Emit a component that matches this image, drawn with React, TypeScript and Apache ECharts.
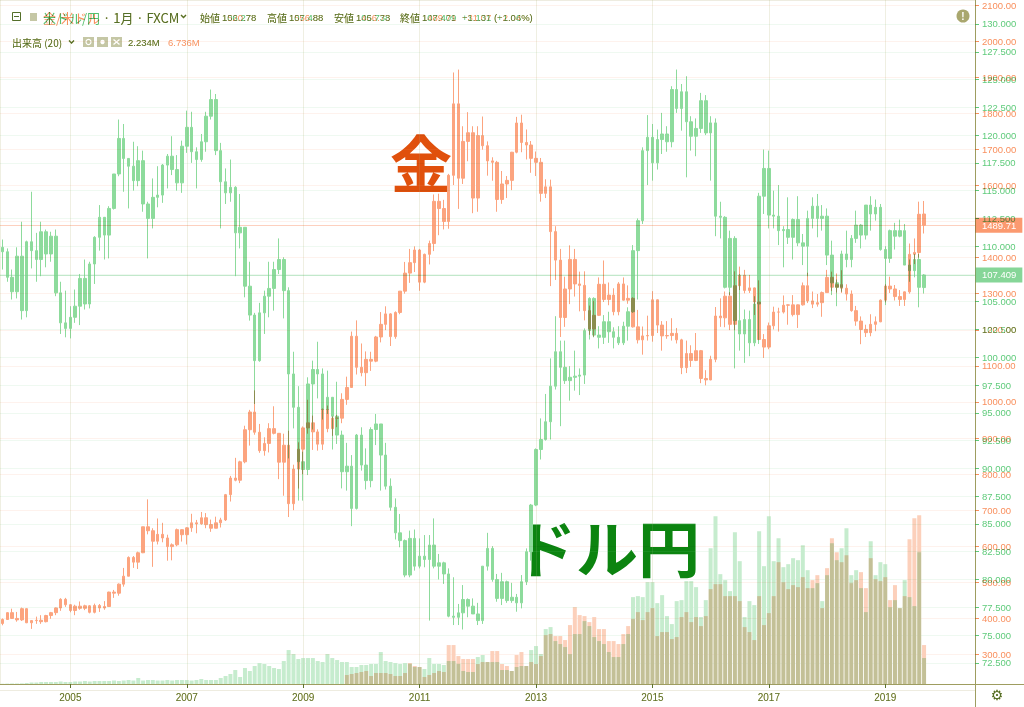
import React, { useEffect, useRef } from "react";
import * as echarts from "echarts";

// ---------- categories (monthly, 2003-11 .. 2020-07; data ends 2019-09) ----------
const MONTHS: string[] = [];
for (let k = 0; k < 201; k++) {
  const m = 10 + k;
  MONTHS.push(`${2003 + Math.floor(m / 12)}-${String((m % 12) + 1).padStart(2, "0")}`);
}
const YEAR_TICKS = ["2005", "2007", "2009", "2011", "2013", "2015", "2017", "2019"];

// ---------- USD/JPY monthly [open, close, low, high] ----------
const USDJPY: number[][] = [
  [109.9,109.5,107.9,110.6],[109.5,107.2,106.8,109.8],
  [107.2,105.9,105.2,107.9],[105.9,109.1,105.3,109.9],[109.1,104.2,103.4,112.2],[104.2,110.4,103.6,110.5],[110.4,109.6,108.0,114.9],[109.6,108.8,106.8,111.2],[108.8,111.3,107.3,112.2],[111.3,109.3,108.1,111.5],[109.3,110.9,108.6,111.3],[110.9,105.8,105.5,111.5],[105.8,103.1,102.1,106.8],[103.1,102.6,101.8,106.0],
  [102.6,103.6,101.7,104.6],[103.6,104.6,103.1,106.1],[104.6,107.1,102.9,107.5],[107.1,104.8,104.3,108.8],[104.8,108.4,104.4,108.6],[108.4,110.8,106.6,110.9],[110.8,112.6,109.6,113.7],[112.6,111.0,108.8,112.6],[111.0,113.4,108.9,113.6],[113.4,116.5,113.3,116.5],[116.5,119.7,116.3,121.4],[119.7,117.9,114.9,121.0],
  [117.9,117.2,113.4,117.9],[117.2,115.9,115.0,119.4],[115.9,117.7,115.4,119.0],[117.7,113.8,113.1,118.6],[113.8,112.5,108.9,114.0],[112.5,114.4,111.6,116.1],[114.4,114.6,113.5,117.2],[114.6,117.3,113.9,117.4],[117.3,118.1,115.2,118.3],[118.1,116.9,116.4,119.9],[116.9,115.7,115.0,118.2],[115.7,119.0,114.8,119.5],
  [119.0,120.7,118.4,122.2],[120.7,118.5,117.5,122.1],[118.5,117.8,115.2,118.9],[117.8,119.4,117.6,120.1],[119.4,121.7,118.5,122.1],[121.7,123.2,121.4,124.1],[123.2,118.6,118.2,123.7],[118.6,115.8,111.6,119.3],[115.8,114.8,113.8,117.0],[114.8,115.3,114.0,117.8],[115.3,111.2,107.3,115.4],[111.2,111.7,109.8,114.7],
  [111.7,106.4,105.4,111.7],[106.4,103.8,103.3,108.6],[103.8,99.7,95.8,104.0],[99.7,104.0,99.6,104.9],[104.0,105.5,102.1,106.0],[105.5,106.2,103.6,108.6],[106.2,107.9,104.2,108.6],[107.9,108.8,107.5,110.7],[108.8,106.0,103.5,109.0],[106.0,98.5,90.9,106.3],[98.5,95.5,93.6,100.5],[95.5,90.6,87.1,97.4],
  [90.6,89.9,87.1,91.5],[89.9,97.6,89.4,98.2],[97.6,98.9,93.5,99.7],[98.9,98.5,96.3,101.4],[98.5,95.3,94.4,99.0],[95.3,96.4,94.9,98.8],[96.4,94.7,91.7,96.4],[94.7,93.0,92.2,97.8],[93.0,89.7,88.2,93.4],[89.7,90.2,88.0,92.3],[90.2,86.4,84.8,91.2],[86.4,93.0,86.3,93.1],
  [93.0,90.3,89.8,93.7],[90.3,88.9,88.1,91.8],[88.9,93.5,88.3,93.7],[93.5,94.0,92.1,94.9],[94.0,91.2,88.0,94.0],[91.2,88.4,88.1,92.3],[88.4,86.5,86.2,89.1],[86.5,84.2,83.6,87.3],[84.2,83.5,82.9,85.9],[83.5,80.4,80.2,83.6],[80.4,83.7,80.2,84.4],[83.7,81.2,80.8,84.5],
  [81.2,82.1,81.0,83.7],[82.1,81.8,81.1,84.0],[81.8,83.1,76.3,84.0],[83.1,81.2,81.0,85.5],[81.2,81.5,80.0,82.3],[81.5,80.5,79.6,81.6],[80.5,76.7,76.6,81.0],[76.7,76.6,75.9,80.2],[76.6,77.0,75.9,77.8],[77.0,78.2,75.5,79.5],[78.2,77.6,76.6,78.3],[77.6,76.9,76.9,78.3],
  [76.9,76.3,75.9,77.9],[76.3,81.2,76.0,81.2],[81.2,82.8,80.8,84.2],[82.8,80.0,79.8,83.0],[80.0,78.3,78.0,80.5],[78.3,79.8,77.7,80.6],[79.8,78.1,77.9,79.9],[78.1,78.4,77.9,79.7],[78.4,77.9,77.1,78.7],[77.9,79.8,77.4,80.4],[79.8,82.5,79.5,82.8],[82.5,86.7,81.7,86.8],
  [86.7,91.7,86.6,91.8],[91.7,92.6,90.8,94.5],[92.6,94.2,92.5,96.7],[94.2,97.4,92.6,99.9],[97.4,100.5,97.1,103.7],[100.5,99.1,93.8,101.5],[99.1,97.9,97.6,101.5],[97.9,98.2,96.1,99.2],[98.2,98.3,97.0,100.6],[98.3,98.4,96.6,99.0],[98.4,102.4,97.6,102.6],[102.4,105.3,101.6,105.4],
  [105.3,102.0,101.8,105.4],[102.0,101.8,100.8,102.8],[101.8,103.2,101.2,103.8],[103.2,102.3,101.3,104.1],[102.3,101.8,100.8,102.7],[101.8,101.3,101.1,102.8],[101.3,102.8,101.1,103.2],[102.8,104.1,101.5,104.5],[104.1,109.6,104.0,110.1],[109.6,112.3,105.2,112.5],[112.3,118.6,112.0,118.9],[118.6,119.8,115.5,121.8],
  [119.8,117.5,115.9,121.0],[117.5,119.6,116.9,120.5],[119.6,120.1,118.3,122.0],[120.1,119.4,118.5,120.8],[119.4,124.1,118.9,124.4],[124.1,122.4,122.0,125.9],[122.4,123.9,120.4,124.6],[123.9,121.2,116.2,125.3],[121.2,119.9,118.6,121.7],[119.9,120.6,118.1,121.5],[120.6,123.1,120.2,123.8],[123.1,120.2,120.0,123.6],
  [120.2,121.1,115.9,121.7],[121.1,112.7,110.9,121.5],[112.7,112.6,110.7,114.0],[112.6,106.3,106.2,112.7],[106.3,110.7,105.6,111.4],[110.7,103.3,99.0,110.9],[103.3,102.1,100.6,107.5],[102.1,103.4,99.5,104.3],[103.4,101.3,100.1,104.2],[101.3,104.8,101.0,105.5],[104.8,114.5,101.2,114.8],[114.5,117.0,112.9,118.7],
  [117.0,112.8,111.6,118.6],[112.8,112.7,111.6,115.0],[112.7,111.4,110.1,115.5],[111.4,111.5,108.1,111.8],[111.5,110.8,110.2,114.4],[110.8,112.4,108.8,112.5],[112.4,110.3,110.0,114.5],[110.3,110.0,108.3,111.1],[110.0,112.5,107.3,113.2],[112.5,113.6,111.6,114.4],[113.6,112.5,110.8,114.7],[112.5,112.7,111.4,113.7],
  [112.7,109.2,108.3,113.4],[109.2,106.7,105.6,110.5],[106.7,106.3,104.6,107.0],[106.3,109.3,105.9,109.6],[109.3,108.8,108.1,111.4],[108.8,110.7,108.1,111.0],[110.7,111.9,110.3,113.2],[111.9,111.0,109.8,112.0],[111.0,113.7,110.6,113.7],[113.7,112.9,111.4,114.5],[112.9,113.5,112.3,114.2],[113.5,109.7,109.6,113.8],
  [109.7,108.9,104.7,110.0],[108.9,111.4,108.5,111.5],[111.4,110.9,109.7,112.1],[110.9,111.4,110.8,112.4],[111.4,108.3,108.3,112.0],[108.3,107.8,106.8,108.8],[107.8,108.8,107.2,109.3],[108.8,106.3,104.5,109.3],[106.278,107.409,105.738,107.488],
];

// ---------- Gold (XAU/USD) monthly [open, close, low, high] ----------
const GOLD: number[][] = [
  [386,397,381,400],[397,416,396,417],
  [416,400,399,427],[400,396,391,418],[396,427,393,430],[427,388,387,428],[388,394,371,395],[394,395,385,405],[395,391,385,409],[391,408,389,410],[408,416,399,418],[416,429,409,430],[429,453,421,456],[453,438,432,457],
  [438,422,417,439],[422,434,409,438],[434,428,424,447],[428,435,423,438],[435,417,414,437],[417,436,414,441],[436,429,418,440],[429,433,424,448],[433,473,432,474],[473,470,457,479],[470,495,463,497],[495,517,488,540],
  [517,569,517,572],[569,556,540,573],[556,582,537,585],[582,654,581,654],[654,643,633,730],[643,614,543,650],[614,633,605,677],[633,623,611,665],[623,599,560,632],[599,604,561,608],[604,646,600,649],[646,632,613,647],
  [632,651,605,653],[651,665,640,690],[665,662,636,673],[662,679,660,695],[679,660,650,692],[660,650,640,674],[650,665,650,682],[665,673,652,679],[673,743,670,745],[743,789,724,795],[789,783,780,845],[783,834,775,837],
  [834,923,830,934],[923,972,879,978],[972,916,909,1032],[916,865,859,939],[865,885,851,902],[885,926,860,941],[926,913,910,988],[913,833,786,913],[833,880,740,912],[880,718,681,920],[718,814,700,826],[814,869,760,888],
  [869,928,800,932],[928,942,912,1006],[942,917,867,962],[917,883,865,924],[883,979,867,982],[979,926,916,990],[926,955,906,960],[955,955,930,964],[955,1007,941,1024],[1007,1040,992,1070],[1040,1182,1040,1195],[1182,1096,1076,1226],
  [1096,1081,1071,1162],[1081,1118,1044,1140],[1118,1113,1086,1139],[1113,1180,1110,1183],[1180,1215,1165,1249],[1215,1244,1199,1265],[1244,1181,1155,1246],[1181,1248,1175,1251],[1248,1307,1243,1307],[1307,1357,1300,1388],[1357,1386,1330,1424],[1386,1421,1360,1431],
  [1421,1332,1308,1424],[1332,1409,1329,1411],[1409,1439,1381,1447],[1439,1556,1418,1575],[1556,1536,1462,1577],[1536,1500,1478,1560],[1500,1628,1480,1632],[1628,1826,1601,1913],[1826,1620,1535,1921],[1620,1722,1604,1764],[1722,1746,1667,1803],[1746,1565,1523,1764],
  [1565,1738,1527,1764],[1738,1710,1699,1791],[1710,1668,1627,1722],[1668,1664,1613,1678],[1664,1561,1527,1668],[1561,1604,1549,1640],[1604,1614,1565,1626],[1614,1692,1587,1693],[1692,1773,1689,1790],[1773,1719,1692,1796],[1719,1712,1672,1755],[1712,1675,1635,1723],
  [1675,1664,1626,1694],[1664,1578,1555,1676],[1578,1596,1565,1617],[1596,1472,1321,1616],[1472,1393,1338,1487],[1393,1234,1180,1424],[1234,1313,1208,1347],[1313,1395,1271,1434],[1395,1327,1292,1424],[1327,1323,1251,1361],[1323,1253,1226,1362],[1253,1202,1186,1267],
  [1202,1240,1181,1280],[1240,1326,1238,1345],[1326,1284,1277,1392],[1284,1296,1268,1331],[1296,1250,1240,1315],[1250,1327,1240,1332],[1327,1282,1281,1345],[1282,1287,1272,1323],[1287,1208,1206,1290],[1208,1172,1162,1255],[1172,1183,1131,1209],[1183,1184,1170,1239],
  [1184,1283,1167,1307],[1283,1213,1191,1284],[1213,1183,1142,1224],[1183,1184,1175,1224],[1184,1190,1170,1232],[1190,1172,1162,1205],[1172,1095,1077,1175],[1095,1134,1080,1170],[1134,1115,1097,1157],[1115,1142,1113,1191],[1142,1065,1052,1144],[1065,1061,1046,1088],
  [1061,1118,1060,1128],[1118,1238,1110,1263],[1238,1233,1208,1287],[1233,1293,1207,1306],[1293,1215,1199,1304],[1215,1322,1199,1362],[1322,1351,1310,1375],[1351,1309,1301,1366],[1309,1316,1302,1352],[1316,1277,1241,1317],[1277,1173,1171,1337],[1173,1152,1122,1188],
  [1152,1211,1146,1220],[1211,1249,1201,1264],[1249,1249,1195,1261],[1249,1268,1245,1295],[1268,1269,1214,1270],[1269,1242,1237,1296],[1242,1269,1205,1270],[1269,1322,1267,1331],[1322,1280,1274,1358],[1280,1271,1260,1306],[1271,1275,1264,1299],[1275,1303,1236,1306],
  [1303,1345,1303,1366],[1345,1318,1307,1361],[1318,1325,1303,1356],[1325,1315,1302,1365],[1315,1299,1281,1326],[1299,1253,1250,1309],[1253,1224,1211,1266],[1224,1201,1160,1237],[1201,1192,1180,1214],[1192,1215,1182,1243],[1215,1222,1196,1237],[1222,1282,1221,1284],
  [1282,1321,1276,1326],[1321,1313,1302,1347],[1313,1292,1281,1324],[1292,1284,1266,1310],[1284,1305,1266,1306],[1305,1409,1300,1439],[1409,1414,1382,1453],[1414,1520,1400,1555],[1520.78,1489.71,1466.73,1556.88],
];

// ---------- volumes (millions) ----------
const USDJPY_VOL: number[] = [
  0.03,0.04,0.05,0.05,0.06,0.10,0.15,0.15,0.20,0.20,0.20,0.20,0.25,0.20,0.20,
  0.25,0.25,0.30,0.25,0.30,0.30,0.30,0.30,0.35,0.30,0.35,0.40,0.35,0.60,
  0.35,0.40,0.40,0.35,0.35,0.40,0.35,0.40,0.40,0.40,0.35,0.40,0.50,0.40,0.40,0.40,
  0.6,0.8,1.0,1.4,0.7,1.6,1.3,1.8,2.1,2.0,1.8,1.6,1.5,2.3,3.4,3.0,2.5,2.6,2.6,2.6,2.3,2.2,3.0,2.6,2.4,
  2.2,2.2,1.7,1.7,1.9,1.9,2.0,2.0,3.2,2.3,2.2,2.1,2.0,2.1,2.0,1.7,1.7,1.5,2.6,2.0,
  2.0,1.9,2.3,2.3,2.0,1.3,1.2,1.2,2.7,2.9,2.2,2.2,2.2,1.4,1.4,1.3,1.7,1.8,1.8,3.4,
  3.8,3.0,5.5,5.7,4.3,4.0,3.7,3.0,5.0,5.0,6.3,5.8,4.7,4.3,4.0,3.2,2.7,2.7,4.0,5.0,8.7,8.8,
  8.7,10.2,10.2,8.1,8.9,6.8,6.0,8.3,8.4,10.3,10.3,9.7,6.7,8.4,13.6,16.8,11.0,10.4,9.3,15.2,
  12.3,6.7,8.3,7.9,15.3,11.8,16.8,12.3,14.6,11.7,12.0,12.6,12.4,13.9,11.4,9.6,10.1,8.3,10.9,14.1,
  12.4,13.6,15.6,10.9,11.4,9.6,7.2,14.3,10.9,12.2,12.0,7.7,8.4,7.6,10.4,8.7,7.8,13.2,2.6,
];
const GOLD_VOL_START = "2009-10";
const GOLD_VOL: number[] = [
  1.8,2.0,2.2,2.4,2.6,1.6,2.2,2.2,2.2,2.0,1.6,1.6,2.2,4.2,3.6,3.4,1.4,1.8,2.2,2.6,
  2.4,7.8,7.8,5.6,5.0,5.0,5.0,4.0,4.4,4.4,6.6,6.6,4.0,3.6,2.6,5.8,6.4,3.6,4.4,4.0,
  5.6,9.8,10.0,9.6,9.6,8.8,11.8,15.4,13.8,13.6,12.4,13.4,11.0,11.0,8.6,8.6,8.0,10.0,11.6,13.0,
  14.4,12.8,14.4,15.2,9.6,10.4,10.4,9.0,9.4,13.4,14.4,12.4,13.4,11.6,13.6,19.0,20.0,20.0,17.6,17.6,
  17.6,16.6,11.4,10.4,8.8,17.6,11.8,14.2,17.6,24.4,20.4,19.0,19.8,19.4,21.4,19.2,20.8,21.8,15.2,23.2,
  29.2,26.4,24.4,25.8,20.2,20.8,22.4,19.2,25.2,21.0,20.6,21.4,16.8,19.8,15.2,17.6,29.0,33.2,33.8,7.8,
];

const CJK = '"Noto Sans CJK JP", sans-serif';
const LAT = '"Liberation Sans", Arial, sans-serif';

const yearFn = (_i: number, v: string) => v.endsWith("-01") && YEAR_TICKS.includes(v.slice(0, 4));

type Cfg = {
  name: string; o: string; h: string; l: string; c: string; chg: string;
  vols: string[]; candle: string; vol: string; label: string; text: string; line: string;
  hgrid: string; vgrid: string; box: string; priceLine: string; icon: string;
  min: number; max: number; interval: number; dec: number; volMax: number;
  ohlc: number[][]; volume: (number | null)[]; bg: string; extra: any[];
};

function txt(text: string, x: number, y: number, fill: string, size: number, family: string, weight: any = "normal", align = "left") {
  return { type: "text", x, y, silent: true, style: { text, fill, fontSize: size, fontFamily: family, fontWeight: weight, textAlign: align, textVerticalAlign: "middle" } };
}

function headerGraphics(c: Cfg): any[] {
  return [
    { type: "line", silent: true, shape: { x1: 975.5, y1: 0, x2: 975.5, y2: 707 }, style: { stroke: c.line, lineWidth: 1 } },
    { type: "line", silent: true, shape: { x1: 0, y1: 684.5, x2: 1024, y2: 684.5 }, style: { stroke: c.line, lineWidth: 1 } },
    { type: "line", silent: true, shape: { x1: 0.5, y1: 0, x2: 0.5, y2: 684 }, style: { stroke: c.vgrid, lineWidth: 1 } },
    { type: "rect", silent: true, shape: { x: 12.5, y: 12.5, width: 8, height: 8 }, style: { fill: "none", stroke: c.text, lineWidth: 1 } },
    { type: "line", silent: true, shape: { x1: 14, y1: 16.5, x2: 19, y2: 16.5 }, style: { stroke: c.text, lineWidth: 1 } },
    { type: "rect", silent: true, shape: { x: 30, y: 13, width: 7, height: 8 }, style: { fill: c.icon } },
    txt(c.name, 43, 17, c.text, 13, CJK),
    { type: "polyline", silent: true, shape: { points: [[181, 15], [183.5, 17.5], [186, 15]] }, style: { stroke: c.text, lineWidth: 1.3, fill: "none" } },
    txt("始値", 200, 17, c.text, 10, CJK), txt(c.o, 222, 17, c.text, 9.5, LAT),
    txt("高値", 267, 17, c.text, 10, CJK), txt(c.h, 289, 17, c.text, 9.5, LAT),
    txt("安値", 334, 17, c.text, 10, CJK), txt(c.l, 356, 17, c.text, 9.5, LAT),
    txt("終値", 400, 17, c.text, 10, CJK), txt(c.c, 422, 17, c.text, 9.5, LAT),
    txt(c.chg, 462, 17, c.text, 9.5, LAT),
    txt("出来高 (20)", 12, 42, c.text, 10, CJK),
    { type: "polyline", silent: true, shape: { points: [[69, 40.5], [71.5, 43], [74, 40.5]] }, style: { stroke: c.text, lineWidth: 1.3, fill: "none" } },
    { type: "rect", silent: true, shape: { x: 83, y: 37, width: 11, height: 10 }, style: { fill: c.icon } },
    { type: "circle", silent: true, shape: { cx: 88.5, cy: 42, r: 2.5 }, style: { fill: "none", stroke: "#fff", lineWidth: 1.2 } },
    { type: "rect", silent: true, shape: { x: 97, y: 37, width: 11, height: 10 }, style: { fill: c.icon } },
    { type: "circle", silent: true, shape: { cx: 102.5, cy: 42, r: 2.2 }, style: { fill: "#fff" } },
    { type: "rect", silent: true, shape: { x: 111, y: 37, width: 11, height: 10 }, style: { fill: c.icon } },
    { type: "line", silent: true, shape: { x1: 113.5, y1: 39.5, x2: 119.5, y2: 44.5 }, style: { stroke: "#fff", lineWidth: 1.3 } },
    { type: "line", silent: true, shape: { x1: 119.5, y1: 39.5, x2: 113.5, y2: 44.5 }, style: { stroke: "#fff", lineWidth: 1.3 } },
    ...c.vols.map((v, k) => txt(v, 128 + k * 40, 42, c.text, 9.5, LAT)),
    txt("⚙", 997, 695, c.text, 14, '"DejaVu Sans", sans-serif', "normal", "center"),
    ...c.extra,
  ];
}

function buildOption(c: Cfg): any {
  const last = c.ohlc[c.ohlc.length - 1][1];
  return {
    animation: false,
    backgroundColor: c.bg,
    grid: [
      { left: 0, right: 49, top: 0, bottom: 16.4, containLabel: false, outerBoundsMode: "none" },
      { left: 0, right: 49, top: 0, bottom: 23, containLabel: false, outerBoundsMode: "none" },
    ],
    xAxis: [
      { type: "category", gridIndex: 0, data: MONTHS, boundaryGap: true, show: false },
      {
        type: "category", gridIndex: 1, data: MONTHS, boundaryGap: true,
        axisLine: { show: false },
        axisTick: { show: true, alignWithLabel: true, interval: yearFn, length: 4, lineStyle: { color: c.label } },
        axisLabel: { interval: yearFn, formatter: (v: string) => v.slice(0, 4), color: c.label, fontSize: 10, fontFamily: LAT, margin: 8 },
        splitLine: { show: true, interval: yearFn, alignWithLabel: true, lineStyle: { color: c.vgrid, width: 1 } },
      },
    ],
    yAxis: [
      {
        type: "value", gridIndex: 0, position: "right", min: c.min, max: c.max, interval: c.interval,
        axisLine: { show: false },
        axisTick: { show: true, length: 4, lineStyle: { color: c.label } },
        axisLabel: { color: c.label, fontSize: 9.5, fontFamily: LAT, margin: 7, showMinLabel: false, showMaxLabel: false, formatter: (v: number) => v.toFixed(c.dec) },
        splitLine: { show: true, lineStyle: { color: c.hgrid, width: 1 } },
      },
      { type: "value", gridIndex: 1, min: 0, max: c.volMax, show: false, splitLine: { show: false } },
    ],
    series: [
      { type: "bar", xAxisIndex: 1, yAxisIndex: 1, data: c.volume, barWidth: 4, silent: true, itemStyle: { color: c.vol } },
      {
        type: "candlestick", xAxisIndex: 0, yAxisIndex: 0, data: c.ohlc, barWidth: 3, silent: true,
        itemStyle: { color: c.candle, color0: c.candle, borderColor: c.candle, borderColor0: c.candle, borderWidth: 1 },
        markLine: {
          silent: true, symbol: ["none", "none"], animation: false,
          data: [{ yAxis: last }],
          lineStyle: { color: c.priceLine, type: "solid", width: 1 },
          label: { show: true, position: "end", distance: 0, formatter: () => last.toFixed(c.dec), color: "#fff", backgroundColor: c.box, padding: [3, 6, 2, 7], fontSize: 9.5, fontFamily: LAT },
        },
      },
    ],
    graphic: { elements: headerGraphics(c) },
  };
}

const GREEN: Cfg = {
  name: "米ドル/円 · 1月 · FXCM", o: "106.278", h: "107.488", l: "105.738", c: "107.409", chg: "+1.131 (+1.06%)",
  vols: ["2.234M"], candle: "#8ddb9c", vol: "#c6ecce", label: "#5fcb7b", text: "#55c16f", line: "#a6cf93",
  hgrid: "rgba(120,205,140,0.12)", vgrid: "rgba(170,210,160,0.16)", box: "#86d698", priceLine: "rgba(120,205,140,0.45)", icon: "#cde9cf",
  min: 70, max: 132.16, interval: 2.5, dec: 3, volMax: 68.5,
  ohlc: USDJPY, volume: USDJPY_VOL, bg: "#ffffff",
  extra: [
    txt("ドル円", 607, 546, "#0c8410", 62, CJK, "bold", "center"),
    { type: "circle", silent: true, shape: { cx: 963, cy: 16, r: 6.5 }, style: { fill: "#a9a76e" } },
    txt("!", 963, 16, "#ffffff", 10, LAT, "bold", "center"),
  ],
};

const goldStart = MONTHS.indexOf(GOLD_VOL_START);
const GOLD_VOL_FULL: (number | null)[] = [...Array(goldStart).fill(null), ...GOLD_VOL];

const ORANGE: Cfg = {
  name: "金/米ドル · 1月 · FXCM", o: "1520.78", h: "1556.88", l: "1466.73", c: "1489.71", chg: "−31.07 (−2.04%)",
  vols: ["2.234M", "6.736M"], candle: "#fca47f", vol: "#fcd0bb", label: "#f98f5d", text: "#f8925f", line: "#f3c2a6",
  hgrid: "rgba(250,150,110,0.12)", vgrid: "rgba(240,200,170,0.16)", box: "#fb9a70", priceLine: "rgba(250,150,110,0.45)", icon: "#f6dacb",
  min: 200, max: 2113.86, interval: 100, dec: 2, volMax: 137,
  ohlc: GOLD, volume: GOLD_VOL_FULL, bg: "rgba(0,0,0,0)",
  extra: [txt("金", 421, 161, "#e0500c", 62, CJK, "bold", "center")],
};

export default function App() {
  const a = useRef<HTMLDivElement>(null);
  const b = useRef<HTMLDivElement>(null);
  useEffect(() => {
    const c1 = echarts.init(a.current!, null, { renderer: "svg" });
    c1.setOption(buildOption(GREEN));
    const c2 = echarts.init(b.current!, null, { renderer: "svg" });
    c2.setOption(buildOption(ORANGE));
    return () => { c1.dispose(); c2.dispose(); };
  }, []);
  return (
    <div style={{ position: "fixed", left: 0, top: 0, width: 1024, height: 707, background: "#fff", overflow: "hidden" }}>
      <div ref={a} style={{ position: "absolute", left: 0, top: 0, width: 1024, height: 707 }} />
      <div ref={b} style={{ position: "absolute", left: 0, top: 0, width: 1024, height: 707, mixBlendMode: "multiply" }} />
    </div>
  );
}
